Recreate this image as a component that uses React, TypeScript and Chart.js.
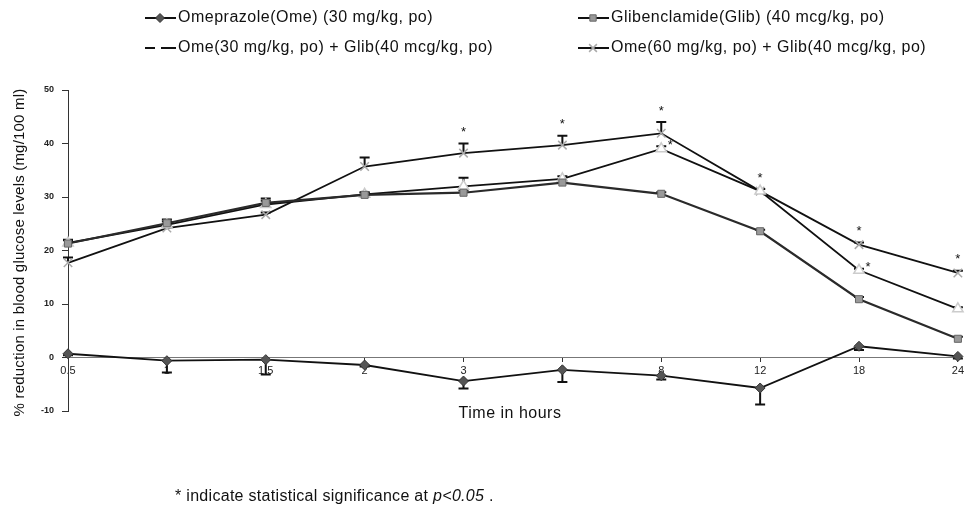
import React, { useEffect, useRef } from 'react';
import { Chart, registerables } from 'chart.js';
import { drawPoint } from 'chart.js/helpers';

Chart.register(...registerables);

const timeLabels = ['0.5', '1', '1.5', '2', '3', '4', '8', '12', '18', '24'];

const omeprazole = [0.7, -0.6, -0.4, -1.4, -4.4, -2.3, -3.4, -5.7, 2.1, 0.2];
const omeprazoleErr = [0.3, 2.2, 2.8, 0.3, 1.4, 2.3, 0.7, 3.1, 0.7, 0.4];

const glib = [21.3, 25.1, 28.9, 30.4, 30.8, 32.7, 30.6, 23.6, 10.9, 3.5];
const glibErr = [0.6, 0.7, 0.8, 0.4, 0.4, 0.3, 0.3, 0.3, 0.4, 0.4];

const ome30Glib = [21.4, 24.8, 28.6, 30.5, 32.0, 33.4, 39.0, 31.1, 16.3, 9.1];
const ome30GlibErr = [0.6, 0.6, 0.7, 0.4, 1.6, 0.5, 0.5, 0.4, 0.3, 0.3];
const ome30GlibSig = [0, 0, 0, 0, 0, 0, 1, 0, 1, 0];

const ome60Glib = [17.7, 24.2, 26.7, 35.7, 38.2, 39.7, 41.9, 31.1, 21.1, 15.8];
const ome60GlibErr = [1.0, 0.4, 0.4, 1.7, 1.8, 1.75, 2.1, 0.4, 0.4, 0.4];
const ome60GlibSig = [0, 0, 0, 0, 1, 1, 1, 1, 1, 1];

const seriesNames = [
  'Omeprazole(Ome) (30 mg/kg, po)',
  'Glibenclamide(Glib) (40 mcg/kg, po)',
  'Ome(30 mg/kg, po) + Glib(40 mcg/kg, po)',
  'Ome(60 mg/kg, po) + Glib(40 mcg/kg, po)',
];

const yTitle = '% reduction in blood glucose levels (mg/100 ml)';
const xTitle = 'Time in hours';

const FONT = '"Liberation Sans", Arial, Helvetica, sans-serif';

const errorBarsPlugin = {
  id: 'errorBars',
  beforeDatasetsDraw(chart: any) {
    const ctx = chart.ctx;
    const y = chart.scales.y;
    chart.data.datasets.forEach((ds: any, di: number) => {
      const meta = chart.getDatasetMeta(di);
      if (!ds.errors) return;
      ds.data.forEach((v: number, i: number) => {
        const pt = meta.data[i];
        const err = ds.errors[i];
        const y0 = y.getPixelForValue(v);
        const y1 = y.getPixelForValue(v + ds.errDir * err);
        ctx.save();
        ctx.strokeStyle = '#111';
        ctx.lineWidth = 2;
        ctx.beginPath();
        ctx.moveTo(pt.x, y0);
        ctx.lineTo(pt.x, y1);
        ctx.moveTo(pt.x - 5, y1);
        ctx.lineTo(pt.x + 5, y1);
        ctx.stroke();
        ctx.restore();
      });
    });
  },
  afterDatasetsDraw(chart: any) {
    const ctx = chart.ctx;
    const y = chart.scales.y;
    ctx.save();
    ctx.fillStyle = '#111';
    ctx.font = `13px ${FONT}`;
    ctx.textAlign = 'center';
    ctx.textBaseline = 'middle';
    chart.data.datasets.forEach((ds: any, di: number) => {
      if (!ds.sig) return;
      const meta = chart.getDatasetMeta(di);
      ds.sig.forEach((s: number, i: number) => {
        if (!s) return;
        const pt = meta.data[i];
        const top = y.getPixelForValue(ds.data[i] + ds.errors[i]);
        if (ds.sigSide) {
          ctx.fillText('*', pt.x + 9, y.getPixelForValue(ds.data[i]) - 3);
        } else {
          ctx.fillText('*', pt.x, top - 11);
        }
      });
    });
    ctx.restore();
  },
  afterDraw(chart: any) {
    const ctx = chart.ctx;
    const area = chart.chartArea;
    ctx.save();
    // legend
    const items = [
      { ds: 0, x: 145, y: 18 },
      { ds: 1, x: 578, y: 18 },
      { ds: 2, x: 145, y: 48 },
      { ds: 3, x: 578, y: 48 },
    ];
    items.forEach((it) => {
      const ds: any = chart.data.datasets[it.ds];
      ctx.strokeStyle = '#111';
      ctx.lineWidth = 2;
      ctx.beginPath();
      if (ds.legendDash) {
        ctx.moveTo(it.x, it.y);
        ctx.lineTo(it.x + 10, it.y);
        ctx.moveTo(it.x + 16, it.y);
        ctx.lineTo(it.x + 31, it.y);
      } else {
        ctx.moveTo(it.x, it.y);
        ctx.lineTo(it.x + 31, it.y);
      }
      ctx.stroke();
      if (!ds.legendDash) {
        ctx.fillStyle = ds.pointBackgroundColor;
        ctx.strokeStyle = ds.pointBorderColor;
        ctx.lineWidth = ds.pointBorderWidth;
        drawPoint(ctx, { pointStyle: ds.pointStyle, radius: ds.pointRadius - 0.5, rotation: 0, borderWidth: ds.pointBorderWidth }, it.x + 15, it.y);
      }
      ctx.fillStyle = '#111';
      ctx.font = `16px ${FONT}`;
      (ctx as any).letterSpacing = '0.5px';
      ctx.textAlign = 'left';
      ctx.textBaseline = 'middle';
      ctx.fillText(ds.label, it.x + 33, it.y);
      (ctx as any).letterSpacing = '0px';
    });
    // y title
    ctx.save();
    ctx.translate(20, (area.top + area.bottom) / 2 + 2);
    ctx.rotate(-Math.PI / 2);
    ctx.font = `15px ${FONT}`;
    (ctx as any).letterSpacing = '0.2px';
    ctx.textAlign = 'center';
    ctx.textBaseline = 'middle';
    ctx.fillStyle = '#111';
    ctx.fillText(yTitle, 0, 0);
    ctx.restore();
    // x title
    ctx.font = `16px ${FONT}`;
    (ctx as any).letterSpacing = '0.5px';
    ctx.textAlign = 'center';
    ctx.textBaseline = 'middle';
    ctx.fillStyle = '#111';
    ctx.fillText(xTitle, 510, 414);
    // footnote
    (ctx as any).letterSpacing = '0.3px';
    ctx.font = `16px ${FONT}`;
    ctx.textAlign = 'left';
    const part1 = '* indicate statistical significance at ';
    ctx.fillText(part1, 175, 497);
    const w1 = ctx.measureText(part1).width;
    ctx.font = `italic 16px ${FONT}`;
    ctx.fillText('p<0.05', 175 + w1, 497);
    const w2 = ctx.measureText('p<0.05').width;
    ctx.font = `16px ${FONT}`;
    ctx.fillText(' .', 175 + w1 + w2, 497);
    (ctx as any).letterSpacing = '0px';
    ctx.restore();
  },
};

export default function App() {
  const ref = useRef<HTMLCanvasElement | null>(null);

  useEffect(() => {
    if (!ref.current) return;
    const chart = new Chart(ref.current, {
      type: 'line',
      data: {
        labels: timeLabels,
        datasets: [
          {
            label: seriesNames[0],
            data: omeprazole,
            errors: omeprazoleErr,
            errDir: -1,
            borderColor: '#111',
            borderWidth: 1.8,
            pointStyle: 'rectRot',
            pointRadius: 5,
            pointBackgroundColor: '#555',
            pointBorderColor: '#333',
            pointBorderWidth: 1,
          } as any,
          {
            label: seriesNames[1],
            data: glib,
            errors: glibErr,
            errDir: 1,
            borderColor: '#2a2a2a',
            borderWidth: 2.2,
            pointStyle: 'rect',
            pointRadius: 5,
            pointBackgroundColor: '#999',
            pointBorderColor: '#666',
            pointBorderWidth: 1,
          } as any,
          {
            label: seriesNames[2],
            data: ome30Glib,
            errors: ome30GlibErr,
            errDir: 1,
            sig: ome30GlibSig,
            sigSide: true,
            legendDash: true,
            borderColor: '#111',
            borderWidth: 1.8,
            pointStyle: 'triangle',
            pointRadius: 6,
            pointBackgroundColor: '#fff',
            pointBorderColor: '#ccc',
            pointBorderWidth: 1.5,
          } as any,
          {
            label: seriesNames[3],
            data: ome60Glib,
            errors: ome60GlibErr,
            errDir: 1,
            sig: ome60GlibSig,
            borderColor: '#111',
            borderWidth: 1.8,
            pointStyle: 'crossRot',
            pointRadius: 6,
            pointBackgroundColor: '#aaa',
            pointBorderColor: '#aaa',
            pointBorderWidth: 1.5,
          } as any,
        ],
      },
      options: {
        animation: false,
        responsive: true,
        maintainAspectRatio: false,
        layout: { padding: { top: 90, right: 7, bottom: 96, left: 0 } },
        plugins: { legend: { display: false }, tooltip: { enabled: false } },
        elements: { line: { tension: 0 } },
        scales: {
          x: {
            type: 'category',
            position: { y: 0 } as any,
            offset: false,
            grid: { display: true, drawOnChartArea: false, drawTicks: true, tickLength: 4, color: '#333' },
            border: { display: true, color: '#777', width: 1 },
            ticks: { font: { size: 11, family: FONT }, color: '#222', padding: 3, maxRotation: 0, autoSkip: false },
          },
          y: {
            min: -10,
            max: 50,
            ticks: { stepSize: 10, font: { size: 9, weight: 'bold', family: FONT }, color: '#222', padding: 8 },
            grid: { display: true, drawOnChartArea: false, tickLength: 6, color: '#333' },
            border: { display: true, color: '#333', width: 1 },
            title: { display: false },
            afterFit: (s: any) => {
              s.width = 68;
            },
          },
        },
      },
      plugins: [errorBarsPlugin],
    } as any);
    return () => chart.destroy();
  }, []);

  return (
    <div style={{ position: 'fixed', left: 0, top: 0, width: 967, height: 507, background: '#fff' }}>
      <canvas ref={ref} />
    </div>
  );
}
